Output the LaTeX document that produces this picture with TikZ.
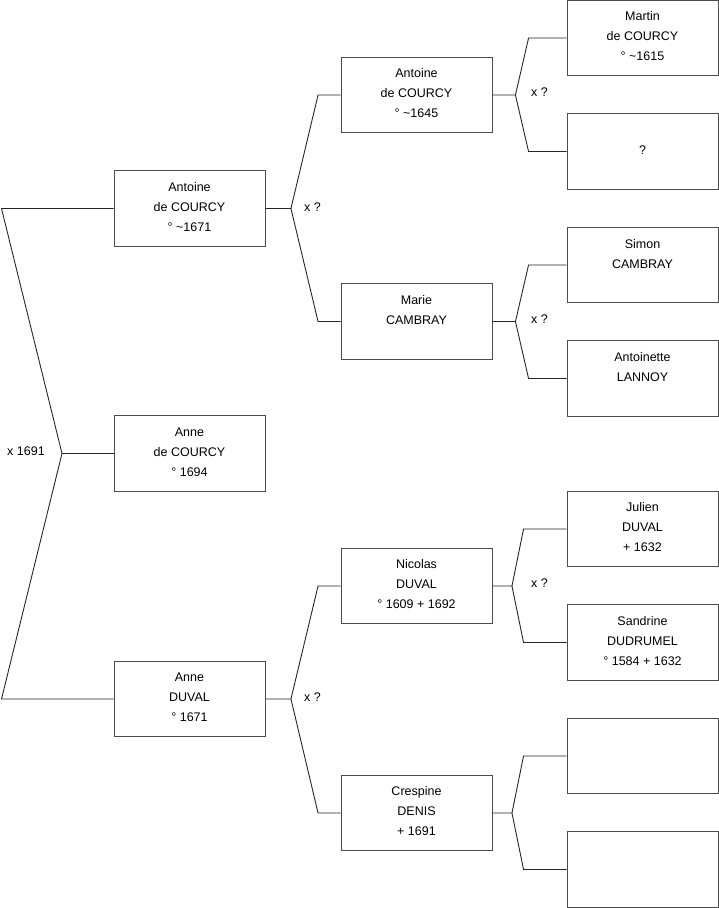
\documentclass[tikz,border=0pt]{standalone}
\usepackage{fontspec}
\setmainfont{Liberation Sans}
\usetikzlibrary{calc}
\begin{document}
\begin{tikzpicture}[x=1pt,y=-1pt,
  personbox/.style={draw=black!70, line width=0.9pt, minimum width=151pt, minimum height=75.5pt, inner sep=0pt},
  persontext/.style={inner sep=0pt, align=center, font=\fontsize{12.5}{20}\selectfont},
  link/.style={draw=black!85, line width=0.9pt},
  lbl/.style={font=\fontsize{12.5}{15}\selectfont, inner sep=0pt, anchor=west}]
\useasboundingbox (0,0) rectangle (719,908);

\newcommand\person[4]{%
  \node[personbox] (#1) at (#2,#3) {};
  \node[persontext] (#1t) at ([yshift=1.5pt]#1.center) {#4};
}

% column 1
\person{a1}{189.5}{208.5}{Antoine\\de COURCY\\° \textasciitilde1671}
\person{ac}{189.5}{453.5}{Anne\\de COURCY\\° 1694}
\person{d1}{189.5}{699}{Anne\\DUVAL\\° 1671}
% column 2
\person{a2}{416.5}{95}{Antoine\\de COURCY\\° \textasciitilde1645}
\person{mc}{416.5}{321.5}{Marie\\CAMBRAY\\\mbox{}}
\person{nd}{416.5}{586}{Nicolas\\DUVAL\\° 1609 + 1692}
\person{cd}{416.5}{813}{Crespine\\DENIS\\+ 1691}
% column 3
\person{mt}{642.5}{38}{Martin\\de COURCY\\° \textasciitilde1615}
\person{uk}{642.5}{151.5}{?}
\person{sc}{642.5}{265}{Simon\\CAMBRAY\\\mbox{}}
\person{al}{642.5}{378.5}{Antoinette\\LANNOY\\\mbox{}}
\person{jd}{642.5}{529}{Julien\\DUVAL\\+ 1632}
\person{sd}{642.5}{642.5}{Sandrine\\DUDRUMEL\\° 1584 + 1632}
\node[personbox] (e1) at (642.5,756) {};
\node[personbox] (e2) at (642.5,869.5) {};

% root bracket
\coordinate (rt) at (1.5,208.5);
\coordinate (rb) at (1.5,699);
\coordinate (rj) at (62,453.5);
\draw[link] (a1.west) -- (rt) -- (rj) -- (rb) -- (d1.west);
\draw[link] (rj) -- (ac.west);
\node[lbl] (x0) at (7,451) {x 1691};

% parent links: #1 parent, #2 upper, #3 lower, #4 junction offset, #5 diagonal end offset
\newcommand\couplelink[5]{%
  \draw[link] (#1.east) -- ++(#4,0) coordinate (j#1) -- ([xshift=-#5 pt]#2.west) -- (#2.west);
  \draw[link] (j#1) -- ([xshift=-#5 pt]#3.west) -- (#3.west);
}
\couplelink{a1}{a2}{mc}{25.5}{22.5}
\couplelink{d1}{nd}{cd}{25.5}{22.5}
\couplelink{a2}{mt}{uk}{23}{38}
\couplelink{mc}{sc}{al}{23}{38}
\couplelink{nd}{jd}{sd}{19.5}{43}
\couplelink{cd}{e1}{e2}{19.5}{43}

\node[lbl] (x1) at (304,207) {x ?};
\node[lbl] (x2) at (304,697) {x ?};
\node[lbl] (x3) at (531,92.5) {x ?};
\node[lbl] (x4) at (531,319.5) {x ?};
\node[lbl] (x5) at (531,583.5) {x ?};
\end{tikzpicture}
\end{document}
